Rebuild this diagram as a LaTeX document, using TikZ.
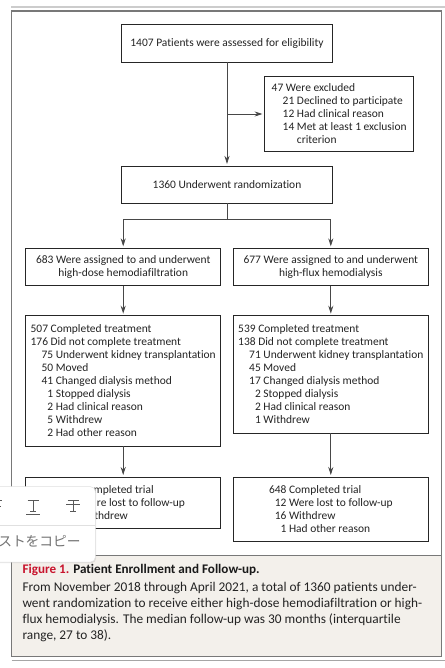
\documentclass[tikz,border=0pt]{standalone}
\usepackage{fontspec}
\setmainfont[RawFeature={-liga}]{Carlito}
\newfontfamily\cjkfont{Noto Sans CJK JP}
\usetikzlibrary{positioning,arrows.meta,calc,shadows}
\definecolor{framegray}{RGB}{120,120,120}
\definecolor{panelbg}{RGB}{243,240,235}
\definecolor{figred}{RGB}{200,20,45}
\definecolor{inktext}{RGB}{35,35,35}
\newcommand{\ind}{\hspace*{8.25pt}}
\newcommand{\dg}{\phantom{0}}

\begin{document}
\begin{tikzpicture}[
    x=0.75pt, y=-0.75pt,
    flowbox/.style={rectangle, draw=black!85, line width=0.6pt, outer sep=0pt, inner sep=0pt, minimum width=146.25pt, align=left, font=\fontsize{8.6pt}{9.75pt}\selectfont, text=inktext},
    wide/.style={flowbox, minimum width=158.25pt, minimum height=28pt, align=center},
    arrow/.style={-{Stealth[length=6pt,width=3.8pt]}, line width=0.6pt, color=black!72, shorten >=1.5pt},
    plain/.style={line width=0.6pt, color=black!72},
    icon/.style={line width=0.75pt, color=black!65}
]
\path[use as bounding box, clip] (0,0) rectangle (445,668);

% Figure frame and caption panel
\draw[line width=0.8pt, color=black!20] (11,7) -- (445,7);
\node[rectangle, draw=framegray, line width=1pt, outer sep=0pt, minimum width=322.5pt, minimum height=408.5pt, anchor=north west] (frame) at (11.5,11) {};
\node[rectangle, draw=framegray, fill=panelbg, line width=1pt, outer sep=0pt, minimum width=322.5pt, minimum height=75.5pt, below=0pt of frame] (panel) {};
\draw[line width=1pt, color=black!35] (panel.south west |- 0,660.7) -- (445,660.7);

% Flow boxes
\node[wide] (assessed) at (227,43.25) {1407 Patients were assessed for eligibility};
\node[wide, below=78pt of assessed] (random) {1360 Underwent randomization};
\node[flowbox, minimum width=112pt, minimum height=56.25pt, anchor=north west] (excluded) at (264.5,76.5) {47 Were excluded\\
\ind 21 Declined to participate\\
\ind 12 Had clinical reason\\
\ind 14 Met at least 1 exclusion\\
\ind\phantom{14 }criterion};

% Left arm
\node[flowbox, minimum height=28pt, align=center] (hdf) at (123.2,267) {683 Were assigned to and underwent\\high-dose hemodiafiltration};
\node[flowbox, minimum height=98pt, below=22.5pt of hdf] (hdftreat) {507 Completed treatment\\
176 Did not complete treatment\\
\ind 75 Underwent kidney transplantation\\
\ind 50 Moved\\
\ind 41 Changed dialysis method\\
\ind\dg 1 Stopped dialysis\\
\ind\dg 2 Had clinical reason\\
\ind\dg 5 Withdrew\\
\ind\dg 2 Had other reason};
\node[flowbox, minimum height=38.25pt, below=23pt of hdftreat] (hdftrial) {\phantom{648 Co}mpleted trial\\
\dg\phantom{12 We}re lost to follow-up\\
\dg\phantom{16 Wi}thdrew};

% Right arm
\node[flowbox, minimum height=28pt, align=center] (hfd) at (330.8,267) {677 Were assigned to and underwent\\high-flux hemodialysis};
\node[flowbox, minimum height=88.25pt, below=22.5pt of hfd] (hfdtreat) {539 Completed treatment\\
138 Did not complete treatment\\
\ind 71 Underwent kidney transplantation\\
\ind 45 Moved\\
\ind 17 Changed dialysis method\\
\ind\dg 2 Stopped dialysis\\
\ind\dg 2 Had clinical reason\\
\ind\dg 1 Withdrew};
\node[flowbox, minimum height=48pt, anchor=north] (hfdtrial) at (hdftrial.north -| hfdtreat) {648 Completed trial\\
\dg 12 Were lost to follow-up\\
\dg 16 Withdrew\\
\dg\dg 1 Had other reason};

% Connectors
\coordinate[below=12pt of random] (split);
\draw[arrow] (assessed) -- (random);
\draw[arrow] (assessed |- excluded.west) -- (excluded.west);
\draw[plain] (random) -- (split);
\draw[arrow] (split) -| (hdf);
\draw[arrow] (split) -| (hfd);
\draw[arrow] (hdf) -- (hdftreat);
\draw[arrow] (hfd) -- (hfdtreat);
\draw[arrow] (hdftreat) -- (hdftrial);
\draw[arrow] (hfdtreat) -- (hfdtrial);

% Caption
\node[anchor=north west, inner sep=0pt, font=\fontsize{9.85pt}{12pt}\selectfont\bfseries, text=black!90] (capttitle) at (22.3,564) {\textcolor{figred}{Figure 1.} Patient Enrollment and Follow-up.};
\node[anchor=north west, inner sep=0pt, align=left, font=\fontsize{10pt}{12pt}\selectfont, text=inktext] (captbody) at (22.3,582) {From November 2018 through April 2021, a total of 1360 patients under-\\
went randomization to receive either high-dose hemodiafiltration or high-\\
flux hemodialysis. The median follow-up was 30 months (interquartile\\
range, 27 to 38).};

% Popup on top
\node[rectangle, rounded corners=3.5pt, draw=black!12, fill=white, outer sep=0pt, minimum width=76pt, minimum height=56.5pt, anchor=north east, drop shadow={opacity=0.18, shadow xshift=0.6pt, shadow yshift=-0.8pt}] (popup) at (95.3,486.7) {};
\draw[line width=0.4pt, color=black!12] (popup.west |- 0,525) -- (popup.east |- 0,525);
\node[anchor=west, inner sep=0pt, font=\cjkfont\fontsize{10.3pt}{12pt}\selectfont, text=black!55] (copytext) at (-2,541.7) {ストをコピー};
\draw[icon] (0,500.7) -- (2,500.7) (0,506) -- (1,506);
\draw[icon] (27.5,500.7) -- (38.5,500.7) (33,500.7) -- (33,511) (30,511) -- (36,511);
\draw[icon] (26,514.7) -- (40,514.7);
\draw[icon] (67.5,500.7) -- (78.5,500.7) (73,500.7) -- (73,511) (70,511) -- (76,511) (66,504.7) -- (80,504.7);
\end{tikzpicture}
\end{document}
